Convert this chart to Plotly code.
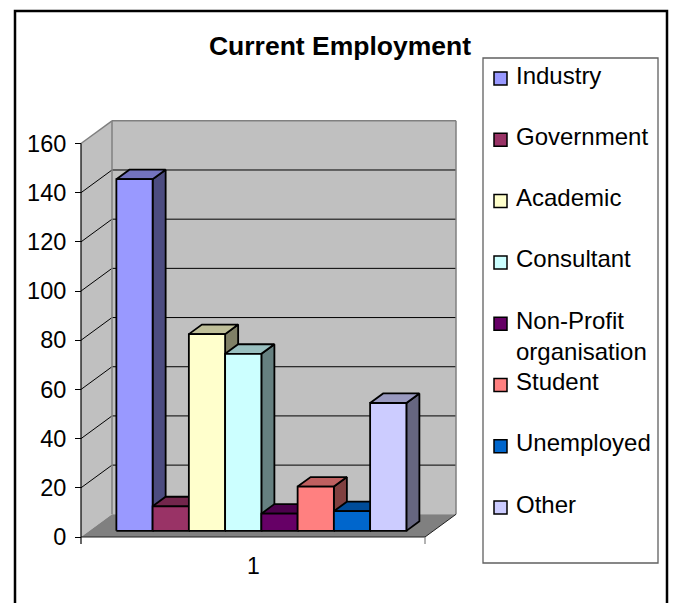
import plotly.graph_objects as go

# ---- data -------------------------------------------------------------
categories = ["Industry", "Government", "Academic", "Consultant",
              "Non-Profit organisation", "Student", "Unemployed", "Other"]
legend_text = ["Industry", "Government", "Academic", "Consultant",
               "Non-Profit<br>organisation", "Student", "Unemployed", "Other"]
counts = [143, 10, 80, 72, 7, 18, 8, 52]
front_colors = ["#9999FF", "#993366", "#FFFFCC", "#CCFFFF",
                "#660066", "#FF8080", "#0066CC", "#CCCCFF"]
y_tick_values = [0, 20, 40, 60, 80, 100, 120, 140, 160]
category_label = "1"
title_text = "Current Employment"

# ---- geometry (pixels on the 675 x 603 canvas) ------------------------
W, H = 675, 603
L, R, T, B = 70, 475, 112, 548          # plot-area box
AXIS_X, ZERO_Y, TOP_Y = 81, 537, 143.5  # value axis: x, y of 0, y of max
FRONT_RIGHT_X = 425                      # right end of the front floor edge
DEPTH_PX = (31.0, 22.7)                  # oblique depth offset of the walls

FONT = "Liberation Sans, Arial, Helvetica, sans-serif"

y_max = max(y_tick_values)
k = (ZERO_Y - TOP_Y) / y_max            # px per value unit
sx = FRONT_RIGHT_X - AXIS_X              # px per category unit

x_range = [0.5 - (AXIS_X - L) / sx, 0.5 + (R - AXIS_X) / sx]
y_range = [-(B - ZERO_Y) / k, (ZERO_Y - T) / k]
DX = DEPTH_PX[0] / sx
DY = DEPTH_PX[1] / k

GROUP_FRAC = 0.843      # share of the category occupied by the bars
F0, F1 = 0.27, 0.69     # depth of the bar front / back faces (0 = front, 1 = back wall)


def px_x(px):
    return (px - L) / (R - L)


def px_y(py):
    return (B - py) / (B - T)


def shade(hex_color, factor):
    r, g, b = (int(hex_color[i:i + 2], 16) for i in (1, 3, 5))
    return f"rgb({round(r * factor)},{round(g * factor)},{round(b * factor)})"


def path(points):
    return "M " + " L ".join(f"{x},{y}" for x, y in points) + " Z"


shapes = []

# walls and floor
x0, x1 = 0.5, 1.5
shapes.append(dict(type="path", xref="x", yref="y", layer="below",
                   path=path([(x0, 0), (x0, y_max), (x0 + DX, y_max + DY), (x0 + DX, DY)]),
                   fillcolor="#C0C0C0", line=dict(width=0)))
shapes.append(dict(type="path", xref="x", yref="y", layer="below",
                   path=path([(x0 + DX, DY), (x1 + DX, DY), (x1 + DX, y_max + DY), (x0 + DX, y_max + DY)]),
                   fillcolor="#C0C0C0", line=dict(width=0)))
shapes.append(dict(type="path", xref="x", yref="y", layer="below",
                   path=path([(x0, 0), (x1, 0), (x1 + DX, DY), (x0 + DX, DY)]),
                   fillcolor="#808080", line=dict(width=0)))

# gridlines on the back and side walls
for v in y_tick_values[1:-1]:
    shapes.append(dict(type="line", xref="x", yref="y", layer="below",
                       x0=x0 + DX, y0=v + DY, x1=x1 + DX, y1=v + DY,
                       line=dict(color="black", width=1)))
    shapes.append(dict(type="line", xref="x", yref="y", layer="below",
                       x0=x0, y0=v, x1=x0 + DX, y1=v + DY,
                       line=dict(color="black", width=1)))

# wall edges
gray_edges = [
    ((x0, y_max), (x0 + DX, y_max + DY)),
    ((x0 + DX, y_max + DY), (x1 + DX, y_max + DY)),
    ((x0 + DX, DY), (x0 + DX, y_max + DY)),
    ((x1 + DX, DY), (x1 + DX, y_max + DY)),
]
for (ax, ay), (bx, by) in gray_edges:
    shapes.append(dict(type="line", xref="x", yref="y", layer="below",
                       x0=ax, y0=ay, x1=bx, y1=by,
                       line=dict(color="#808080", width=1.5)))
dark_edges = [
    ((x0, 0), (x1, 0)),
    ((x1, 0), (x1 + DX, DY)),
]
for (ax, ay), (bx, by) in dark_edges:
    shapes.append(dict(type="line", xref="x", yref="y", layer="below",
                       x0=ax, y0=ay, x1=bx, y1=by,
                       line=dict(color="#202020", width=1)))

# value axis line and category boundary ticks
tick_len = 7 / k
shapes.append(dict(type="line", xref="x", yref="y", layer="above",
                   x0=x0, y0=-tick_len, x1=x0, y1=y_max,
                   line=dict(color="black", width=1.2)))
shapes.append(dict(type="line", xref="x", yref="y", layer="above",
                   x0=x1, y0=0, x1=x1, y1=-tick_len,
                   line=dict(color="#808080", width=1.2)))

# ---- bars (oblique 3-D columns) ---------------------------------------
fig = go.Figure()
n = len(counts)
w = GROUP_FRAC / n
x_start = 1 - GROUP_FRAC / 2
ddx, ddy = (F1 - F0) * DX, (F1 - F0) * DY
for i, (name, v, c) in enumerate(zip(categories, counts, front_colors)):
    xl = x_start + i * w + F0 * DX
    xr = xl + w
    yb = F0 * DY
    yt = yb + v
    faces = [
        ([(xr, yb), (xr, yt), (xr + ddx, yt + ddy), (xr + ddx, yb + ddy)], shade(c, 0.5)),
        ([(xl, yt), (xr, yt), (xr + ddx, yt + ddy), (xl + ddx, yt + ddy)], shade(c, 0.75)),
        ([(xl, yb), (xl, yt), (xr, yt), (xr, yb)], c),
    ]
    for pts, col in faces:
        pts = pts + [pts[0]]
        fig.add_trace(go.Scatter(
            x=[p[0] for p in pts], y=[p[1] for p in pts],
            mode="lines", fill="toself", fillcolor=col,
            line=dict(color="black", width=1.8),
            name=name, text=f"{name}: {v}", hoverinfo="text",
            showlegend=False,
        ))

# ---- legend -------------------------------------------------------------
annotations = []
shapes.append(dict(type="rect", xref="paper", yref="paper",
                   x0=px_x(483), y0=px_y(58), x1=px_x(658), y1=px_y(563),
                   line=dict(color="#606060", width=1.3), fillcolor="white"))
first_center, step = 78.5, 61.3
for i, (label, c) in enumerate(zip(legend_text, front_colors)):
    cy = first_center + i * step
    shapes.append(dict(type="rect", xref="paper", yref="paper",
                       x0=px_x(494), x1=px_x(507), y0=px_y(cy - 6.5), y1=px_y(cy + 6.5),
                       fillcolor=c, line=dict(color="black", width=1.5)))
    annotations.append(dict(xref="paper", yref="paper", x=px_x(514), y=px_y(cy - 19),
                            xanchor="left", yanchor="top", align="left",
                            text=label, showarrow=False,
                            font=dict(family=FONT, size=24, color="black")))

# category label under the floor
annotations.append(dict(xref="x", yref="y", x=1, y=0, yshift=-29,
                        xanchor="center", yanchor="middle", text=category_label,
                        showarrow=False, font=dict(family=FONT, size=23, color="black")))

# outer chart border
shapes.append(dict(type="rect", xref="paper", yref="paper",
                   x0=px_x(15), x1=px_x(667), y0=px_y(11), y1=px_y(640),
                   line=dict(color="black", width=2.5)))

fig.update_layout(
    width=W, height=H,
    margin=dict(l=L, r=W - R, t=T, b=H - B),
    paper_bgcolor="white", plot_bgcolor="white",
    title=dict(text=f"<b>{title_text}</b>", x=340 / W, xanchor="center",
               y=1 - 46 / H, yanchor="middle", xref="container", yref="container",
               font=dict(family=FONT, size=26.5, color="black")),
    xaxis=dict(range=x_range, visible=False, fixedrange=True),
    yaxis=dict(range=y_range, tickvals=y_tick_values, ticks="outside",
               ticklen=6, tickcolor="black", tickwidth=1,
               showgrid=False, zeroline=False, showline=False,
               anchor="free", position=px_x(AXIS_X),
               tickfont=dict(family=FONT, size=23.5, color="black"),
               ticklabelstandoff=4, fixedrange=True),
    shapes=shapes,
    annotations=annotations,
    showlegend=False,
)

fig.write_html("out.html")
